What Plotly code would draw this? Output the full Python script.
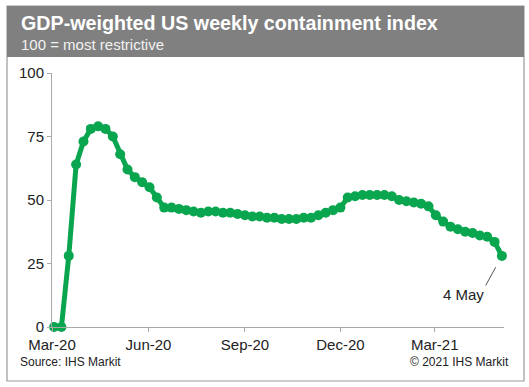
import plotly.graph_objects as go
import pandas as pd

# ---- data ----
start_date = "2020-03-03"
n_weeks = 62
index_values = [
    0, 0, 28, 64, 73, 78, 79, 78, 75, 68,
    62, 59, 57, 55, 51, 47, 47, 46.5, 46, 45.5,
    45, 45.5, 45.5, 45, 45, 44.5, 44, 43.5, 43.5, 43,
    43, 42.5, 42.5, 42.5, 43, 43, 44, 45, 46, 47,
    51, 51.5, 52, 52, 52, 52, 51.5, 50, 49.5, 49,
    48.5, 47.5, 44, 41.5, 39.5, 38.5, 37.5, 37, 36, 35.5,
    33.5, 28,
]
tick_dates = ["2020-03-01", "2020-06-01", "2020-09-01", "2020-12-01", "2021-03-01"]
tick_labels = ["Mar-20", "Jun-20", "Sep-20", "Dec-20", "Mar-21"]
y_ticks = [0, 25, 50, 75, 100]

title = "GDP-weighted US weekly containment index"
subtitle = "100 = most restrictive"
source = "Source: IHS Markit"
copyright_txt = "© 2021 IHS Markit"
last_label = "4 May"

dates = pd.date_range(start_date, periods=n_weeks, freq="7D")

W, H = 529, 387
L, R, T, B = 52, 25, 73, 60
pw, ph = W - L - R, H - T - B

def px_x(x):
    return (x - L) / pw

def px_y(y):
    return (H - B - y) / ph

green = "#0AA64F"
font = "Liberation Sans, Arial, sans-serif"

fig = go.Figure()
fig.add_trace(go.Scatter(
    x=dates, y=index_values, mode="lines+markers",
    line=dict(color=green, width=5),
    marker=dict(color=green, size=10),
    cliponaxis=False, showlegend=False,
))

shapes = [
    dict(type="rect", xref="paper", yref="paper",
         x0=px_x(7), x1=px_x(524), y0=px_y(6), y1=px_y(381),
         line=dict(color="#9a9a9a", width=1.2), fillcolor="rgba(0,0,0,0)", layer="below"),
    dict(type="rect", xref="paper", yref="paper",
         x0=px_x(7), x1=px_x(524), y0=px_y(6), y1=px_y(57),
         line=dict(width=0), fillcolor="#808080", layer="below"),
]

annotations = [
    dict(text="<b>" + title + "</b>", xref="paper", yref="paper",
         x=px_x(19), y=px_y(23), xanchor="left", yanchor="middle",
         showarrow=False, font=dict(family=font, size=19.7, color="white")),
    dict(text=subtitle, xref="paper", yref="paper",
         x=px_x(19), y=px_y(45), xanchor="left", yanchor="middle",
         showarrow=False, font=dict(family=font, size=15, color="#f2f2f2")),
    dict(text=source, xref="paper", yref="paper",
         x=px_x(18), y=px_y(362), xanchor="left", yanchor="middle",
         showarrow=False, font=dict(family=font, size=12, color="#222")),
    dict(text=copyright_txt, xref="paper", yref="paper",
         x=px_x(511), y=px_y(362), xanchor="right", yanchor="middle",
         showarrow=False, font=dict(family=font, size=12, color="#222")),
    dict(text="", x=dates[-1], y=index_values[-1], xref="x", yref="y",
         showarrow=True, arrowhead=0, arrowwidth=1, arrowcolor="#555",
         ax=-17, ay=31, standoff=13),
    dict(text=last_label, x=dates[-1], y=index_values[-1], xref="x", yref="y",
         showarrow=False, xshift=-38, yshift=-39,
         font=dict(family=font, size=15, color="#222")),
]

fig.update_layout(
    width=W, height=H,
    margin=dict(l=L, r=R, t=T, b=B),
    paper_bgcolor="white", plot_bgcolor="white",
    shapes=shapes, annotations=annotations,
    xaxis=dict(
        range=["2020-03-01", "2021-05-06"],
        tickvals=tick_dates, ticktext=tick_labels,
        showgrid=False, zeroline=False,
        showline=True, linecolor="#aaaaaa", linewidth=1,
        ticks="outside", ticklen=4, tickcolor="#aaaaaa",
        tickfont=dict(family=font, size=15, color="#222"),
    ),
    yaxis=dict(
        range=[0, 100], tickvals=y_ticks,
        showgrid=False, zeroline=False,
        showline=True, linecolor="#aaaaaa", linewidth=1,
        ticks="outside", ticklen=4, tickcolor="#aaaaaa",
        tickfont=dict(family=font, size=15, color="#222"),
    ),
)

fig.write_html("out.html", config={"displayModeBar": False},
               post_script="document.body.style.margin='0';")
